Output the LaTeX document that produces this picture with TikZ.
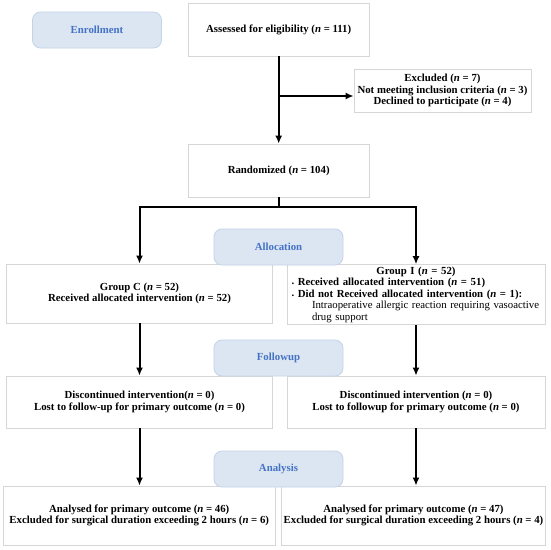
\documentclass[tikz,border=0pt]{standalone}
\usepackage{fontspec}
\setmainfont{Liberation Serif}
\usepackage{tikz}
\usetikzlibrary{arrows.meta}

\definecolor{phasefill}{HTML}{DCE6F2}
\definecolor{phaseline}{HTML}{C3D3E8}
\definecolor{phasetext}{HTML}{4472C4}
\definecolor{boxline}{HTML}{D6D6D6}

\begin{document}
\begin{tikzpicture}[x=1pt, y=-1pt,
  font=\fontsize{10.8}{11.5}\selectfont\bfseries,
  box/.style={draw=boxline, line width=0.8pt, fill=white, align=center, inner sep=2pt},
  phase/.style={draw=phaseline, line width=0.8pt, fill=phasefill, rounded corners=8pt,
    text=phasetext, minimum width=129pt, minimum height=36pt, inner sep=0pt},
  flow/.style={line width=2pt, -{Latex[length=8pt,width=7pt]}}]
  \useasboundingbox (0,0) rectangle (550,550);
  % top part
  \node[box, minimum width=181.5pt, minimum height=53pt] (assess) at (278.7,29.5)
    {Assessed for eligibility (\textit{n} = 111)};
  \node[box, minimum width=177pt, minimum height=43pt] (excl) at (442.5,90.5)
    {Excluded (\textit{n} = 7)\\Not meeting inclusion criteria (\textit{n} = 3)\\Declined to participate (\textit{n} = 4)};
  \node[box, minimum width=181pt, minimum height=53pt] (rand) at (278.7,170.5)
    {Randomized (\textit{n} = 104)};
  % two arms
  \node[box, minimum width=266pt, minimum height=59pt] (grpC) at (139.5,293.5)
    {Group C (\textit{n} = 52)\\Received allocated intervention (\textit{n} = 52)};
  \node[box, minimum height=59pt, text width=254pt, align=left] (grpI) at (416,294.5)
    {\makebox[254pt]{Group I (\textit{n} = 52)}\\
     \hspace*{2.5pt}\raisebox{1pt}{.} Received allocated intervention (\textit{n} = 51)\\
     \hspace*{2.5pt}\raisebox{1pt}{.} Did not Received allocated intervention (\textit{n} = 1):\\
     \hspace*{23pt}\mdseries Intraoperative allergic reaction requiring vasoactive\\
     \hspace*{23pt}\mdseries drug support};
  \node[box, minimum width=266.5pt, minimum height=52pt] (fupC) at (139.5,402)
    {Discontinued intervention(\textit{n} = 0)\\Lost to follow-up for primary outcome (\textit{n} = 0)};
  \node[box, minimum width=258pt, minimum height=52pt] (fupI) at (416,402)
    {Discontinued intervention (\textit{n} = 0)\\Lost to followup for primary outcome (\textit{n} = 0)};
  \node[box, minimum width=271.5pt, minimum height=59pt] (anaC) at (139.25,515.5)
    {Analysed for primary outcome (\textit{n} = 46)\\Excluded for surgical duration exceeding 2 hours (\textit{n} = 6)};
  \node[box, minimum width=263pt, minimum height=59pt] (anaI) at (413.5,515.5)
    {Analysed for primary outcome (\textit{n} = 47)\\Excluded for surgical duration exceeding 2 hours (\textit{n} = 4)};
  % connectors
  \coordinate (branch) at (278.7,96);
  \coordinate (split) at (278.7,207);
  \draw[flow] (assess) -- (rand);
  \draw[flow] (branch) -- (branch -| excl.west);
  \draw[line width=2pt] (rand.south) -- (split);
  \draw[flow] (split) -| (grpC.north);
  \draw[flow] (split) -| (grpI.north);
  \draw[flow] (grpC) -- (fupC);
  \draw[flow] (grpI.south) -- (fupI.north);
  \draw[flow] (fupC) -- (anaC.north -| fupC.south);
  \draw[flow] (fupI) -- (anaI.north -| fupI.south);
  % phase labels
  \node[phase] (enroll) at (97,30) {Enrollment};
  \node[phase] (alloc) at (278.5,247) {Allocation};
  \node[phase] (follow) at (278.5,358) {Followup};
  \node[phase] (analysis) at (278.5,469) {Analysis};
\end{tikzpicture}
\end{document}
